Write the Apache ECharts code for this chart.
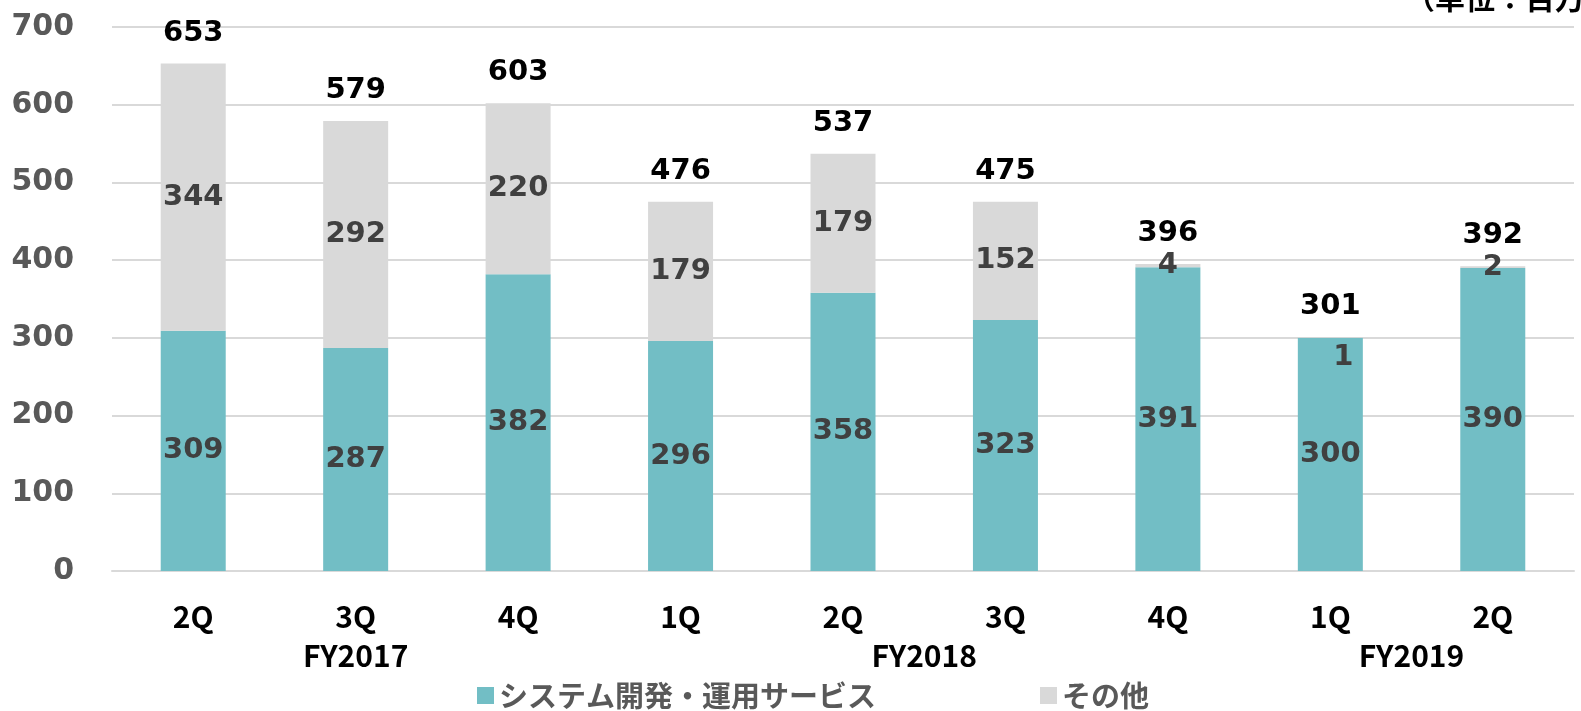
<!DOCTYPE html>
<html>
<head>
    <meta charset="utf-8">
    <title>売上推移</title>
    <script src="https://cdn.jsdelivr.net/npm/echarts@6/dist/echarts.min.js"></script>
    <style>
        html, body { margin: 0; padding: 0; background: #fff; }
        #main { width: 1581px; height: 711px; }
    </style>
</head>
<body>
<div id="main"></div>
<script>
    // 四半期
    var quarters = ['2Q', '3Q', '4Q', '1Q', '2Q', '3Q', '4Q', '1Q', '2Q'];
    // 年度ラベル（位置は値軸上の中点）
    var fyLabels = ['FY2017', 'FY2018', 'FY2019'];
    var fyPos = [1.5, 5, 8];
    var seriesNames = ['システム開発・運用サービス', 'その他'];
    var sysValues = [309, 287, 382, 296, 358, 323, 391, 300, 390];
    var otherValues = [344, 292, 220, 179, 179, 152, 4, 1, 2];
    var totals = [653, 579, 603, 476, 537, 475, 396, 301, 392];

    var numFont = 'DejaVu Sans';
    var narrowFont = '"Liberation Sans Narrow", "Noto Sans CJK JP", sans-serif';
    var jpFont = 'Noto Sans CJK JP';

    var chart = echarts.init(document.getElementById('main'));

    var otherData = otherValues.map(function (v, i) {
        // 1Q FY2019 の小さい値はExcel同様に少し下にずらす
        if (v === 1) {
            return {value: v, label: {offset: [13, 20]}};
        }
        return v;
    });

    var option = {
        animation: false,
        title: {
            text: '（単位：百万円）',
            left: 1405,
            top: -17,
            padding: 0,
            textStyle: {fontFamily: jpFont, fontSize: 30, fontWeight: 'bold', color: '#000'}
        },
        legend: {
            left: 472,
            bottom: -4,
            itemWidth: 17,
            itemHeight: 17,
            itemGap: 164,
            icon: 'rect',
            data: seriesNames,
            textStyle: {fontFamily: jpFont, fontSize: 29, fontWeight: 'bold', color: '#595959'}
        },
        grid: {left: 112, right: 7, top: 27, bottom: 140},
        xAxis: [
            {
                type: 'category',
                data: quarters,
                axisLine: {lineStyle: {color: '#D9D9D9', width: 2}},
                axisTick: {show: false},
                axisLabel: {
                    margin: 31,
                    fontFamily: narrowFont,
                    fontSize: 30,
                    fontWeight: 'bold',
                    color: '#000'
                }
            },
            {
                type: 'value',
                position: 'bottom',
                min: 0,
                max: quarters.length,
                interval: 0.5,
                axisLine: {show: false},
                axisTick: {show: false},
                splitLine: {show: false},
                axisLabel: {
                    margin: 70,
                    showMinLabel: true,
                    showMaxLabel: true,
                    fontFamily: narrowFont,
                    fontSize: 30,
                    fontWeight: 'bold',
                    color: '#000',
                    formatter: function (v) {
                        var idx = fyPos.indexOf(v);
                        return idx >= 0 ? fyLabels[idx] : '';
                    }
                }
            }
        ],
        yAxis: {
            type: 'value',
            min: 0,
            max: 700,
            interval: 100,
            axisLine: {show: false},
            axisTick: {show: false},
            splitLine: {lineStyle: {color: '#D9D9D9', width: 2}},
            axisLabel: {
                margin: 38,
                fontFamily: numFont,
                fontSize: 30,
                fontWeight: 'bold',
                color: '#595959'
            }
        },
        series: [
            {
                name: seriesNames[0],
                type: 'bar',
                stack: 'total',
                barWidth: 65,
                data: sysValues,
                itemStyle: {color: '#72BEC5'},
                label: {
                    show: true,
                    position: 'inside',
                    fontFamily: numFont,
                    fontSize: 29,
                    fontWeight: 'bold',
                    color: '#404040'
                }
            },
            {
                name: seriesNames[1],
                type: 'bar',
                stack: 'total',
                barWidth: 65,
                data: otherData,
                itemStyle: {color: '#D9D9D9'},
                label: {
                    show: true,
                    position: 'inside',
                    fontFamily: numFont,
                    fontSize: 29,
                    fontWeight: 'bold',
                    color: '#404040'
                }
            },
            {
                name: '合計',
                type: 'bar',
                stack: 'total',
                barWidth: 65,
                data: totals.map(function () { return 0; }),
                itemStyle: {color: 'transparent'},
                label: {
                    show: true,
                    position: 'top',
                    distance: 16,
                    fontFamily: numFont,
                    fontSize: 29,
                    fontWeight: 'bold',
                    color: '#000',
                    formatter: function (p) { return totals[p.dataIndex]; }
                }
            }
        ]
    };
    chart.setOption(option);
</script>
</body>
</html>
